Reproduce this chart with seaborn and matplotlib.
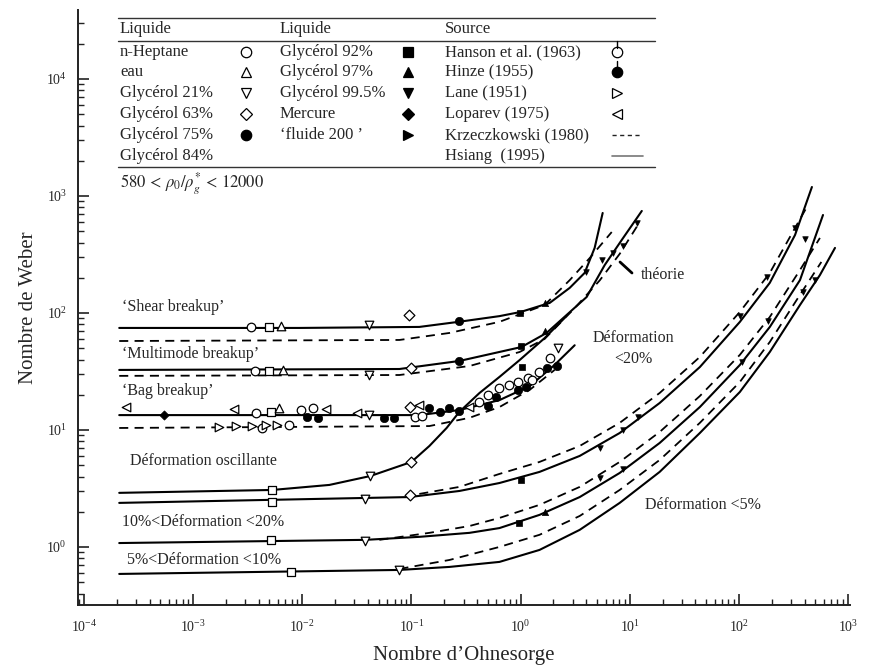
import matplotlib
matplotlib.use("Agg")
import matplotlib.pyplot as plt
import seaborn as sns
from matplotlib.lines import Line2D

# ---------------- data (Ohnesorge, Weber) ----------------
shear_solid_oh = [2.1e-4, 9.4e-3, 0.118, 0.27, 0.64, 1.0, 1.85, 2.82, 3.86, 4.77, 5.65]
shear_solid_we = [74.5, 74.5, 76, 84, 94, 102, 122, 164, 220, 360, 716]
shear_dash_oh = [2.1e-4, 0.0776, 0.223, 0.64, 1.66, 2.82, 4.30, 6.84]
shear_dash_we = [57.6, 58.8, 67.5, 84, 117, 191, 295, 492]

multi_solid_oh = [2.1e-4, 0.0776, 0.275, 1.02, 1.73, 4.03, 5.90, 8.45, 12.9]
multi_solid_we = [32.6, 33.2, 38.9, 51.2, 67.5, 137, 257, 421, 745]
multi_dash_oh = [2.1e-4, 0.0776, 0.34, 0.98, 1.66, 3.13, 5.31, 8.09, 11.8]
multi_dash_we = [29.0, 29.5, 35.2, 46.4, 60, 110, 190, 320, 560]

bag_solid_oh = [2.1e-4, 0.118, 0.275, 0.64, 1.21, 2.05, 3.13]
bag_solid_we = [13.4, 13.4, 14.8, 18.0, 23.7, 36, 53]
bag_dash_oh = [2.1e-4, 0.146, 0.34, 0.64, 1.21, 2.05]
bag_dash_we = [10.4, 10.8, 12.7, 15.7, 22, 32.6]

osc_solid_oh = [2.1e-4, 5.3e-3, 0.0177, 0.042, 0.10, 0.146, 0.21, 0.275, 0.42, 0.64, 0.98, 1.66, 2.53]
osc_solid_we = [2.90, 3.07, 3.39, 4.04, 5.33, 7.30, 10.4, 14.3, 20.7, 28.4, 39.6, 61, 90.6]

d1_solid_oh = [2.1e-4, 0.096, 0.275, 0.64, 1.49, 3.48, 8.09, 18.8, 43.9, 102, 192, 327, 467]
d1_solid_we = [2.38, 2.67, 3.01, 3.52, 4.38, 6.0, 9.42, 17.0, 34.5, 83.8, 181, 464, 1194]
d1_dash_oh = [0.118, 0.275, 0.64, 1.49, 3.48, 8.09, 18.8, 43.9, 102, 192, 327, 430]
d1_dash_we = [2.84, 3.26, 4.21, 5.33, 7.3, 11.5, 20.7, 42.1, 102, 220, 533, 838]

d2_solid_oh = [2.1e-4, 0.0379, 0.118, 0.34, 0.64, 1.49, 3.48, 8.09, 18.8, 43.9, 102, 192, 363, 590]
d2_solid_we = [1.08, 1.15, 1.22, 1.32, 1.45, 1.88, 2.67, 4.29, 7.74, 15.7, 35.9, 75.9, 191, 688]
d2_dash_oh = [0.0508, 0.146, 0.34, 0.64, 1.49, 3.48, 8.09, 18.8, 43.9, 102, 192, 363, 553]
d2_dash_we = [1.15, 1.32, 1.51, 1.77, 2.29, 3.26, 5.33, 9.61, 19.5, 43.8, 92.4, 233, 438]

d3_solid_oh = [2.1e-4, 0.0776, 0.223, 0.64, 1.49, 3.48, 8.09, 18.8, 43.9, 102, 192, 363, 553, 760]
d3_solid_we = [0.588, 0.636, 0.675, 0.745, 0.943, 1.40, 2.38, 4.38, 9.42, 21.1, 46.4, 117, 211, 360]
d3_dash_oh = [0.0776, 0.223, 0.64, 1.49, 3.48, 8.09, 18.8, 43.9, 102, 192, 363, 570]
d3_dash_we = [0.649, 0.774, 1.0, 1.27, 1.84, 3.07, 5.54, 11.5, 25.7, 56.5, 143, 273]

# markers
oc_oh = [3.40e-3, 3.71e-3, 3.78e-3, 9.8e-3, 0.0124, 4.30e-3, 7.6e-3, 0.107, 0.126, 0.42, 0.50,
         0.64, 0.79, 0.94, 1.16, 1.26, 1.49, 1.85]
oc_we = [76, 31.9, 14.0, 14.8, 15.4, 10.4, 11.0, 12.9, 13.2, 17.3, 19.9, 22.9, 24.3, 25.7,
         27.8, 26.7, 31.3, 41.2]
osq_oh = [4.98e-3, 4.98e-3, 5.2e-3, 5.3e-3, 5.3e-3, 5.2e-3, 7.9e-3]
osq_we = [76, 31.9, 14.3, 3.07, 2.42, 1.15, 0.611]
otu_oh = [6.4e-3, 6.6e-3, 6.15e-3]
otu_we = [77, 32.6, 15.4]
otd_oh = [0.0412, 0.0412, 0.0412, 0.042, 0.0379, 0.0379, 0.0776, 2.18]
otd_we = [79, 29.5, 13.4, 4.04, 2.57, 1.13, 0.636, 50.2]
odi_oh = [0.094, 0.10, 0.096, 0.10, 0.096]
odi_we = [96, 33.9, 15.7, 5.33, 2.78]
otl_oh = [2.43e-4, 2.38e-3, 0.0166, 0.032, 0.118, 0.34]
otl_we = [15.7, 15.1, 15.1, 14.0, 16.4, 15.7]
otr_oh = [1.73e-3, 2.48e-3, 3.48e-3, 4.67e-3, 5.9e-3]
otr_we = [10.6, 10.8, 10.8, 11.0, 11.0]
fc_oh = [0.27, 0.27, 0.0111, 0.0140, 0.0565, 0.0698, 0.146, 0.181, 0.223, 0.275, 0.50, 0.60,
         0.94, 1.13, 1.73, 2.14]
fc_we = [85.5, 38.9, 12.9, 12.7, 12.7, 12.7, 15.4, 14.3, 15.4, 14.5, 16.0, 19.1, 22.0, 23.3,
         33.9, 35.2]
fsq_oh = [0.98, 1.0, 1.04, 1.0, 0.96]
fsq_we = [100, 52.2, 34.5, 3.74, 1.60]
fdi_oh = [5.4e-4]
fdi_we = [13.4]
ftu_oh = [1.66, 1.66, 1.66]
ftu_we = [122, 70.2, 1.99]
ftd_oh = [3.95, 5.53, 6.98, 8.63, 11.6, 5.31, 8.63, 11.8, 5.31, 8.63, 102, 181, 107, 185,
          327, 403, 498, 387]
ftd_we = [224, 284, 326, 374, 588, 7.0, 10.0, 12.8, 3.9, 4.6, 95, 205, 38, 85,
          530, 430, 190, 150]

x_ticks = [1e-4, 1e-3, 1e-2, 1e-1, 1e0, 1e1, 1e2, 1e3]
y_ticks = [1e0, 1e1, 1e2, 1e3, 1e4]

col1 = ["n-Heptane", "eau", "Glycérol 21%", "Glycérol 63%", "Glycérol 75%", "Glycérol 84%"]
col2 = ["Glycérol 92%", "Glycérol 97%", "Glycérol 99.5%", "Mercure", "‘fluide 200 ’", ""]
col3 = ["Hanson et al. (1963)", "Hinze (1955)", "Lane (1951)", "Loparev (1975)",
        "Krzeczkowski (1980)", "Hsiang  (1995)"]

# ---------------- figure ----------------
sns.set_theme(style="ticks")
plt.rcParams["font.family"] = ["Liberation Serif", "DejaVu Serif"]
plt.rcParams["mathtext.fontset"] = "stix"

W, H = 869, 666
fig = plt.figure(figsize=(W / 100, H / 100), dpi=100)
ax = fig.add_axes([78 / W, 1 - 605 / H, (850 - 78) / W, (605 - 10) / H])
ax.set_xscale("log")
ax.set_yscale("log")
ax.set_xlim(8.8e-5, 1043)
ax.set_ylim(0.319, 3.89e4)

solid_kw = dict(color="black", lw=1.5, sort=False, estimator=None, zorder=2)
dash_kw = dict(color="black", lw=1.3, sort=False, estimator=None, zorder=2,
               linestyle=(0, (5, 3.5)))
for o, w in [(shear_solid_oh, shear_solid_we), (multi_solid_oh, multi_solid_we),
             (bag_solid_oh, bag_solid_we), (osc_solid_oh, osc_solid_we),
             (d1_solid_oh, d1_solid_we), (d2_solid_oh, d2_solid_we), (d3_solid_oh, d3_solid_we)]:
    sns.lineplot(x=o, y=w, ax=ax, **solid_kw)
for o, w in [(shear_dash_oh, shear_dash_we), (multi_dash_oh, multi_dash_we),
             (bag_dash_oh, bag_dash_we), (d1_dash_oh, d1_dash_we),
             (d2_dash_oh, d2_dash_we), (d3_dash_oh, d3_dash_we)]:
    sns.lineplot(x=o, y=w, ax=ax, **dash_kw)

open_kw = dict(color="white", edgecolor="black", linewidth=0.9, s=38, zorder=3)
fill_kw = dict(color="black", edgecolor="black", linewidth=0.5, s=36, zorder=3)
sns.scatterplot(x=oc_oh, y=oc_we, marker="o", ax=ax, **open_kw)
sns.scatterplot(x=osq_oh, y=osq_we, marker="s", ax=ax, **open_kw)
sns.scatterplot(x=otu_oh, y=otu_we, marker="^", ax=ax, **open_kw)
sns.scatterplot(x=otd_oh, y=otd_we, marker="v", ax=ax, **open_kw)
sns.scatterplot(x=odi_oh, y=odi_we, marker="D", ax=ax, **{**open_kw, "s": 30})
sns.scatterplot(x=otl_oh, y=otl_we, marker="<", ax=ax, **open_kw)
sns.scatterplot(x=otr_oh, y=otr_we, marker=">", ax=ax, **open_kw)
sns.scatterplot(x=fc_oh, y=fc_we, marker="o", ax=ax, **fill_kw)
sns.scatterplot(x=fsq_oh, y=fsq_we, marker="s", ax=ax, **{**fill_kw, "s": 22})
sns.scatterplot(x=fdi_oh, y=fdi_we, marker="D", ax=ax, **{**fill_kw, "s": 22})
sns.scatterplot(x=ftu_oh, y=ftu_we, marker="^", ax=ax, **{**fill_kw, "s": 20})
sns.scatterplot(x=ftd_oh, y=ftd_we, marker="v", ax=ax, **{**fill_kw, "s": 16})

ax.set_xticks(x_ticks)
ax.set_yticks(y_ticks)
for s in ["top", "right"]:
    ax.spines[s].set_visible(False)
for s in ["left", "bottom"]:
    ax.spines[s].set_linewidth(1.4)
    ax.spines[s].set_color("#222222")
ax.tick_params(which="major", direction="in", length=8, width=1.2, labelsize=10, color="#222222")
ax.tick_params(which="minor", direction="in", length=4, width=1.0, color="#222222")
ax.tick_params(axis="x", which="major", pad=10)
ax.tick_params(axis="y", which="major", pad=8)
ax.set_xlabel("Nombre d’Ohnesorge", fontsize=15, labelpad=8)
ax.set_ylabel("Nombre de Weber", fontsize=15, labelpad=6)
ax.grid(False)


def fx(x):
    return x / W


def fy(y):
    return 1 - y / H


TXT = 11.5
for txt, x, y in [("‘Shear breakup’", 122, 307), ("‘Multimode breakup’", 122, 354),
                  ("‘Bag breakup’", 122, 391), ("Déformation oscillante", 130, 461),
                  ("10%<Déformation <20%", 122, 522), ("5%<Déformation <10%", 127, 560),
                  ("Déformation <5%", 645, 505), ("théorie", 641, 275)]:
    fig.text(fx(x), fy(y), txt, fontsize=TXT, ha="left", va="center")
fig.text(fx(633), fy(338), "Déformation", fontsize=TXT, ha="center", va="center")
fig.text(fx(633), fy(359), "<20%", fontsize=TXT, ha="center", va="center")
fig.add_artist(Line2D([fx(620), fx(632)], [fy(262), fy(273)], color="black", lw=2,
                      transform=fig.transFigure))

# ---------------- legend table ----------------
LG = 12
for y in [18, 41, 167]:
    fig.add_artist(Line2D([fx(118), fx(655)], [fy(y), fy(y)], color="#333333", lw=1.0,
                          transform=fig.transFigure))
fig.text(fx(120), fy(29), "Liquide", fontsize=LG, va="center")
fig.text(fx(280), fy(29), "Liquide", fontsize=LG, va="center")
fig.text(fx(445), fy(29), "Source", fontsize=LG, va="center")
rows = [52, 72, 93, 114, 135, 156]
m1 = [("o", "white"), ("^", "white"), ("v", "white"), ("D", "white"), ("o", "black"), None]
m2 = [("s", "black"), ("^", "black"), ("v", "black"), ("D", "black"), (">", "black"), None]
m3 = [("o", "white"), ("o", "black"), (">", "white"), ("<", "white"), None, None]


def leg_marker(x, y, spec):
    if spec is None:
        return
    mk, fc = spec
    ms = 7.5 if mk != "D" else 6.5
    fig.add_artist(Line2D([fx(x)], [fy(y)], marker=mk, markersize=ms, markerfacecolor=fc,
                          markeredgecolor="black", markeredgewidth=0.9, linestyle="none",
                          transform=fig.transFigure))


for i, y in enumerate(rows):
    fig.text(fx(120), fy(y), col1[i], fontsize=LG, va="center")
    fig.text(fx(280), fy(y), col2[i], fontsize=LG, va="center")
    fig.text(fx(445), fy(y), col3[i], fontsize=LG, va="center")
    leg_marker(246, y, m1[i])
    leg_marker(408, y, m2[i])
    leg_marker(617, y, m3[i])
for y0, y1 in [(41, 48), (61, 67)]:
    fig.add_artist(Line2D([fx(617), fx(617)], [fy(y0), fy(y1)], color="black", lw=1.0,
                          transform=fig.transFigure))
fig.add_artist(Line2D([fx(612), fx(642)], [fy(135), fy(135)], color="#222222", lw=1.0,
                      linestyle=(0, (3, 2.5)), transform=fig.transFigure))
fig.add_artist(Line2D([fx(612), fx(643)], [fy(156), fy(156)], color="#777777", lw=1.2,
                      transform=fig.transFigure))
fig.text(fx(120), fy(183), r"$580\,<\,\rho_0/\rho_g^{*}\,<\,12000$", fontsize=12, va="center")

fig.savefig("out.png", dpi=100)
